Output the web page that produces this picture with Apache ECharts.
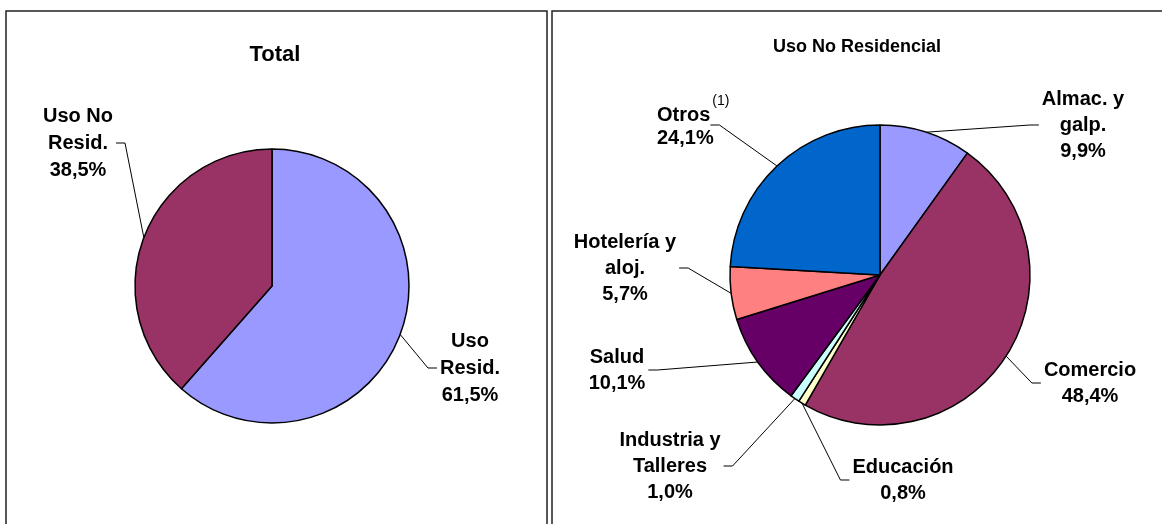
<!DOCTYPE html>
<html>
<head>
<meta charset="utf-8">
<script src="https://cdn.jsdelivr.net/npm/echarts@6/dist/echarts.min.js"></script>
<style>
  html, body { margin: 0; padding: 0; background: #fff; }
  #chart { width: 1162px; height: 524px; }
</style>
</head>
<body>
<div id="chart"></div>
<script>
// datos: total por uso
const totalNames = ['Uso\nResid.', 'Uso No\nResid.'];
const totalValues = [61.5, 38.5];
const totalColors = ['#9999ff', '#993366'];

// datos: uso no residencial
const noResNames = ['Almac. y\ngalp.', 'Comercio', 'Educación', 'Industria y\nTalleres', 'Salud', 'Hotelería y\naloj.', 'Otros'];
const noResValues = [9.9, 48.4, 0.8, 1.0, 10.1, 5.7, 24.1];
const noResNotes = ['', '', '', '', '', '', '(1)'];
const noResColors = ['#9999ff', '#993366', '#ffffcc', '#ccffff', '#660066', '#ff8080', '#0066cc'];

const titles = ['Total', 'Uso No Residencial'];

// posiciones de etiquetas (centro del bloque de texto)
const totalLabelPos = [[470, 368], [78, 143]];
const noResLabelPos = [[1083, 125], [1090, 383], [903, 480], [670, 466], [617, 370], [625, 268], [657, 125]];
const noResLabelAlign = ['center', 'center', 'center', 'center', 'center', 'center', 'left'];

const FONT = '"Liberation Sans", Arial, sans-serif';
const fmt = (v) => v.toFixed(1).replace('.', ',') + '%';

const chart = echarts.init(document.getElementById('chart'));

// etiqueta en texto rico, con llamada opcional (superíndice)
const makeFormatter = (notes) => (p) => {
  const lines = p.name.split('\n').map(l => `{o|${l}}`);
  const note = notes ? notes[p.dataIndex] : '';
  if (note) lines[0] = `{b|${p.name.split('\n')[0]}}{s|${note}}`;
  lines.push(`{o|${fmt(p.value)}}`);
  return lines.join('\n');
};

const richStyle = (lh) => ({
  o: { fontFamily: FONT, fontWeight: 'bold', fontSize: 20, lineHeight: lh, color: '#000' },
  b: { fontFamily: FONT, fontWeight: 'bold', fontSize: 20, lineHeight: lh, color: '#000', verticalAlign: 'bottom' },
  s: { fontFamily: FONT, fontSize: 14, lineHeight: 14, color: '#000', verticalAlign: 'bottom', padding: [0, 0, 17, 2] }
});

// mueve la etiqueta y redibuja la línea guía desde el borde del sector
const makeLayout = (pos, aligns) => (params) => {
  const i = params.dataIndex;
  const [x, y] = pos[i];
  const align = aligns ? aligns[i] : 'center';
  const w = params.labelRect.width;
  const edge = params.labelLinePoints ? params.labelLinePoints[0].slice() : [x, y];
  const left = align === 'left' ? x : x - w / 2;
  const right = align === 'left' ? x + w - 22 : x + w / 2;
  const gap = 3, tick = 9;
  let end, elbow;
  if (x < edge[0]) {
    end = [right + gap, y];
    elbow = [right + gap + tick, y];
  } else {
    end = [left - gap, y];
    elbow = [left - gap - tick, y];
  }
  return { x, y, align, verticalAlign: 'middle', labelLinePoints: [edge, elbow, end] };
};

const pieBase = {
  type: 'pie',
  startAngle: 90,
  clockwise: true,
  avoidLabelOverlap: false,
  silent: true,
  itemStyle: { borderColor: '#000', borderWidth: 1.5 },
  labelLine: { show: true, length: 10, length2: 10, lineStyle: { color: '#000', width: 1 } },
  emphasis: { disabled: true }
};

const option = {
  animation: false,
  graphic: [
    { type: 'rect', shape: { x: 6, y: 11, width: 541, height: 540 }, style: { fill: 'none', stroke: '#222', lineWidth: 1.5 } },
    { type: 'rect', shape: { x: 552, y: 11, width: 620, height: 540 }, style: { fill: 'none', stroke: '#222', lineWidth: 1.5 } },
    { type: 'text', x: 275, y: 55, style: { text: titles[0], font: 'bold 22px ' + FONT, fill: '#000', align: 'center', verticalAlign: 'middle' } },
    { type: 'text', x: 857, y: 47, style: { text: titles[1], font: 'bold 18px ' + FONT, fill: '#000', align: 'center', verticalAlign: 'middle' } }
  ],
  series: [
    Object.assign({}, pieBase, {
      center: [272, 286],
      radius: 137,
      data: totalValues.map((v, i) => ({ name: totalNames[i], value: v, itemStyle: { color: totalColors[i] } })),
      label: { show: true, position: 'outside', formatter: makeFormatter(null), rich: richStyle(27), align: 'center' },
      labelLayout: makeLayout(totalLabelPos, null)
    }),
    Object.assign({}, pieBase, {
      center: [880, 275],
      radius: 150,
      data: noResValues.map((v, i) => ({ name: noResNames[i], value: v, itemStyle: { color: noResColors[i] } })),
      label: { show: true, position: 'outside', formatter: makeFormatter(noResNotes), rich: richStyle(26), align: 'center' },
      labelLayout: makeLayout(noResLabelPos, noResLabelAlign)
    })
  ]
};

chart.setOption(option);
</script>
</body>
</html>
